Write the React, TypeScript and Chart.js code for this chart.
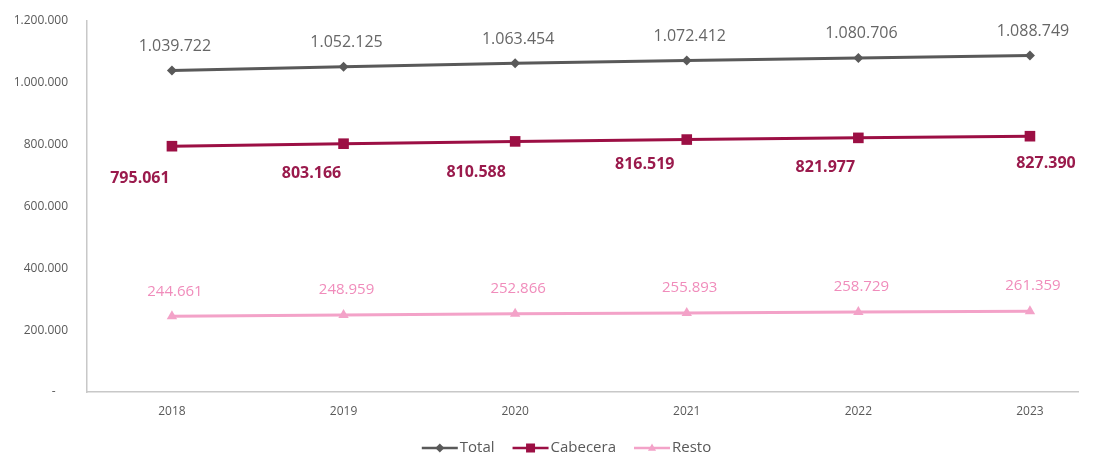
import React, { useEffect, useRef } from "react";
import { Chart, registerables } from "chart.js";
Chart.register(...registerables);

const YEARS = [2018, 2019, 2020, 2021, 2022, 2023];
const TOTAL = [1039722, 1052125, 1063454, 1072412, 1080706, 1088749];
const CABECERA = [795061, 803166, 810588, 816519, 821977, 827390];
const RESTO = [244661, 248959, 252866, 255893, 258729, 261359];
const Y_TICKS = [0, 200000, 400000, 600000, 800000, 1000000, 1200000];
const SERIES_NAMES = ["Total", "Cabecera", "Resto"];

const FONT = "'Open Sans', 'DejaVu Sans', sans-serif";
const W = 1101;
const H = 457;

function fmt(n: number): string {
  return String(Math.round(n)).replace(/\B(?=(\d{3})+(?!\d))/g, ".");
}

function drawMarker(ctx: CanvasRenderingContext2D, kind: string, x: number, y: number, r: number) {
  ctx.beginPath();
  if (kind === "diamond") {
    ctx.moveTo(x - r, y);
    ctx.lineTo(x, y - r);
    ctx.lineTo(x + r, y);
    ctx.lineTo(x, y + r);
    ctx.closePath();
  } else if (kind === "square") {
    ctx.rect(x - r, y - r, 2 * r, 2 * r);
  } else {
    ctx.moveTo(x, y - r);
    ctx.lineTo(x + r * 0.9, y + r * 0.6);
    ctx.lineTo(x - r * 0.9, y + r * 0.6);
    ctx.closePath();
  }
  ctx.fill();
}

const labelPlugin = {
  id: "pointLabels",
  afterDatasetsDraw(chart: any) {
    const ctx = chart.ctx as CanvasRenderingContext2D;
    chart.data.datasets.forEach((ds: any, i: number) => {
      const st = ds.labelStyle;
      if (!st) return;
      const meta = chart.getDatasetMeta(i);
      ctx.save();
      ctx.font = st.font;
      ctx.fillStyle = st.color;
      ctx.textAlign = "center";
      ctx.textBaseline = "middle";
      meta.data.forEach((pt: any, j: number) => {
        const v = ds.data[j].y;
        ctx.fillText(fmt(v), pt.x + st.dx[j], pt.y + st.dy[j]);
      });
      ctx.restore();
    });
  },
};

const legendPlugin = {
  id: "customLegend",
  afterDraw(chart: any) {
    const ctx = chart.ctx as CanvasRenderingContext2D;
    const lineLen = 36;
    const gapText = 2;
    const gapItem = 18;
    const y = 448;
    ctx.save();
    ctx.font = `15px ${FONT}`;
    const items = chart.data.datasets.map((ds: any) => ({
      label: ds.label,
      color: ds.borderColor,
      marker: ds.legendMarker,
      tw: ctx.measureText(ds.label).width,
    }));
    const total = items.reduce((a: number, it: any) => a + lineLen + gapText + it.tw, 0) + gapItem * (items.length - 1);
    let x = (W - total) / 2 + 16;
    items.forEach((it: any) => {
      ctx.strokeStyle = it.color;
      ctx.fillStyle = it.color;
      ctx.lineWidth = 2.5;
      ctx.beginPath();
      ctx.moveTo(x, y);
      ctx.lineTo(x + lineLen, y);
      ctx.stroke();
      drawMarker(ctx, it.marker, x + lineLen / 2, y, 4.5);
      ctx.fillStyle = "#595959";
      ctx.textAlign = "left";
      ctx.textBaseline = "middle";
      ctx.fillText(it.label, x + lineLen + gapText, y);
      x += lineLen + gapText + it.tw + gapItem;
    });
    ctx.restore();
  },
};

export default function App() {
  const ref = useRef<HTMLCanvasElement | null>(null);
  useEffect(() => {
    if (!ref.current) return;
    const mk = (arr: number[]) => YEARS.map((yr, i) => ({ x: yr, y: arr[i] }));
    const chart = new Chart(ref.current, {
      type: "line",
      data: {
        datasets: [
          {
            label: SERIES_NAMES[0],
            data: mk(TOTAL),
            borderColor: "#595959",
            backgroundColor: "#595959",
            borderWidth: 3,
            pointStyle: "rectRot",
            pointRadius: 5,
            pointBorderWidth: 0,
            legendMarker: "diamond",
            labelStyle: {
              font: `16px ${FONT}`,
              color: "#666666",
              dx: [3, 3, 3, 3, 3, 3],
              dy: [-24, -24, -24, -24, -24, -24],
            },
          } as any,
          {
            label: SERIES_NAMES[1],
            data: mk(CABECERA),
            borderColor: "#9C0F44",
            backgroundColor: "#9C0F44",
            borderWidth: 3,
            pointStyle: "rect",
            pointRadius: 7.5,
            pointBorderWidth: 0,
            legendMarker: "square",
            labelStyle: {
              font: `bold 16px ${FONT}`,
              color: "#9A1A4C",
              dx: [-32, -32, -39, -42, -33, 16],
              dy: [32, 30, 31, 25, 30, 27],
            },
          } as any,
          {
            label: SERIES_NAMES[2],
            data: mk(RESTO),
            borderColor: "#F3A2C8",
            backgroundColor: "#F3A2C8",
            borderWidth: 3,
            pointStyle: "triangle",
            pointRadius: 6,
            pointBorderWidth: 0,
            legendMarker: "triangle",
            labelStyle: {
              font: `15px ${FONT}`,
              color: "#F08CBB",
              dx: [3, 3, 3, 3, 3, 3],
              dy: [-25, -25, -25, -25, -25, -25],
            },
          } as any,
        ],
      },
      options: {
        responsive: false,
        animation: false,
        layout: { padding: { left: 0, right: 23, top: 21, bottom: 35 } },
        plugins: {
          legend: { display: false },
          tooltip: { enabled: false },
        },
        scales: {
          x: {
            type: "linear",
            min: 2017.505,
            max: 2023.28,
            afterBuildTicks: (s: any) => {
              s.ticks = YEARS.map((v) => ({ value: v }));
            },
            afterFit: (s: any) => {
              s.height = 30;
            },
            grid: { drawOnChartArea: false, drawTicks: true, tickLength: 10, tickColor: "rgba(0,0,0,0)" },
            border: { display: true, color: "#c8c8c8", width: 1.5 },
            ticks: {
              padding: 2,
              color: "#595959",
              font: { family: FONT, size: 12 },
              callback: (v: any) => String(v),
            },
          },
          y: {
            min: 0,
            max: 1200000,
            afterBuildTicks: (s: any) => {
              s.ticks = Y_TICKS.map((v) => ({ value: v }));
            },
            afterFit: (s: any) => {
              s.width = 87;
            },
            grid: { drawOnChartArea: false, drawTicks: true, tickLength: 16, tickColor: "rgba(0,0,0,0)" },
            border: { display: true, color: "#c8c8c8", width: 1.5 },
            ticks: {
              padding: 3,
              color: "#595959",
              font: { family: FONT, size: 12 },
              callback: (v: any) => (Number(v) === 0 ? "-    " : fmt(Number(v))),
            },
          },
        },
      },
      plugins: [labelPlugin, legendPlugin],
    });
    return () => chart.destroy();
  }, []);
  return (
    <div style={{ position: "absolute", left: 0, top: 0, width: W, height: H, background: "#fff" }}>
      <canvas ref={ref} width={W} height={H} style={{ display: "block" }} />
    </div>
  );
}
